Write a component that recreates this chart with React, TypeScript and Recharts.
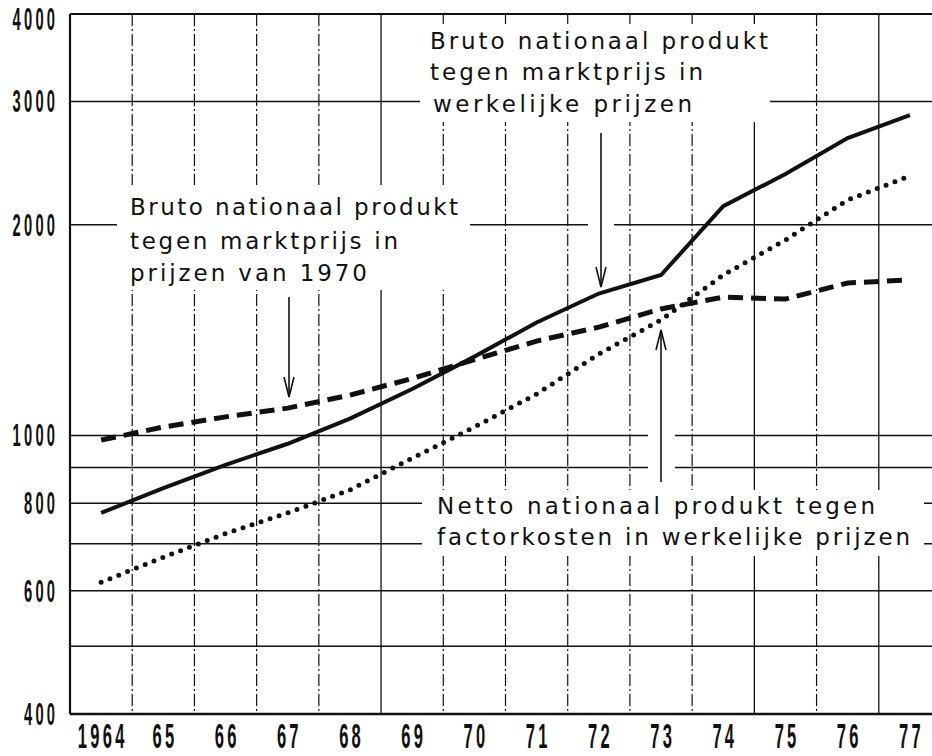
import React from 'react';
import { LineChart, Line, XAxis, YAxis, CartesianGrid, ReferenceLine, Customized } from 'recharts';

const years = [1964, 1965, 1966, 1967, 1968, 1969, 1970, 1971, 1972, 1973, 1974, 1975, 1976, 1977];
const yearLabels = ['1964', '65', '66', '67', '68', '69', '70', '71', '72', '73', '74', '75', '76', '77'];

// Bruto nationaal produkt tegen marktprijs in werkelijke prijzen (solid)
const bnpWerkelijkePrijzen = [775, 841, 908, 973, 1057, 1165, 1296, 1450, 1595, 1695, 2126, 2363, 2660, 2869];
// Bruto nationaal produkt tegen marktprijs in prijzen van 1970 (dashed)
const bnpPrijzen1970 = [985, 1028, 1063, 1094, 1142, 1206, 1283, 1364, 1428, 1516, 1576, 1566, 1651, 1668];
// Netto nationaal produkt tegen factorkosten in werkelijke prijzen (dotted)
const nnpFactorkosten = [617, 670, 724, 775, 836, 928, 1028, 1146, 1307, 1462, 1695, 1902, 2170, 2348];

const yTickValues = [400, 600, 800, 1000, 2000, 3000, 4000];
const yGridValues = [500, 600, 700, 800, 900, 1000, 2000, 3000];
const yearBoundariesSolid = [1968.5, 1974.5, 1976.5];
const yearBoundariesDashed = [1964.5, 1965.5, 1966.5, 1967.5, 1969.5, 1970.5, 1971.5, 1972.5, 1973.5, 1975.5];

const data = years.map((year, i) => ({
  year,
  bnpW: bnpWerkelijkePrijzen[i],
  bnp70: bnpPrijzen1970[i],
  nnp: nnpFactorkosten[i],
}));

const NUM_FONT = "'Liberation Sans', Arial, sans-serif";
const TXT_FONT = "'DejaVu Sans', Verdana, sans-serif";
const INK = '#111';
const SX = 0.46;

const XTick = (props: any) => {
  const { x, y, payload } = props;
  const label = yearLabels[years.indexOf(payload.value)];
  const ls = 7;
  return (
    <g transform={`translate(${x + (ls * SX) / 2},${y + 34})`}>
      <text transform={`scale(${SX},1)`} textAnchor="middle" fontFamily={NUM_FONT} fontWeight="bold" fontSize={36} letterSpacing={ls} fill={INK}>
        {label}
      </text>
    </g>
  );
};

const YTick = (props: any) => {
  const { x, y, payload } = props;
  if (!yTickValues.includes(payload.value)) return null;
  const ls = 7;
  const base = Math.max(y + 11, 30);
  return (
    <g transform={`translate(${x + ls * SX},${base})`}>
      <text transform={`scale(${SX},1)`} textAnchor="end" fontFamily={NUM_FONT} fontWeight="bold" fontSize={32} letterSpacing={ls} fill={INK}>
        {payload.value}
      </text>
    </g>
  );
};

const TextLine = ({ x, y, len, children }: any) => (
  <text x={x} y={y} textLength={len} lengthAdjust="spacing" fontFamily={TXT_FONT} fontSize={23} fill={INK}>
    {children}
  </text>
);

const Annotations = () => (
  <g>
    {/* white backgrounds that interrupt the grid */}
    <rect x={117} y={185} width={353} height={105} fill="#fff" />
    <rect x={420} y={24} width={350} height={98} fill="#fff" />
    <rect x={422} y={490} width={502} height={66} fill="#fff" />
    <rect x={588} y={200} width={26} height={50} fill="#fff" />
    <rect x={648} y={425} width={27} height={57} fill="#fff" />

    <TextLine x={130} y={215} len={328}>Bruto nationaal produkt</TextLine>
    <TextLine x={130} y={249} len={268}>tegen marktprijs in</TextLine>
    <TextLine x={130} y={281} len={237}>prijzen van 1970</TextLine>

    <TextLine x={430} y={49} len={338}>Bruto nationaal produkt</TextLine>
    <TextLine x={430} y={80} len={273}>tegen marktprijs in</TextLine>
    <TextLine x={433} y={112} len={259}>werkelijke prijzen</TextLine>

    <TextLine x={437} y={514} len={438}>Netto nationaal produkt tegen</TextLine>
    <TextLine x={437} y={545} len={473}>factorkosten in werkelijke prijzen</TextLine>

    <g stroke={INK} strokeWidth={1.6} fill="none">
      <line x1={289} y1={297} x2={289} y2={397} />
      <polyline points="284,377 289,397 294,377" />
      <line x1={601} y1={133} x2={601} y2={287} />
      <polyline points="596,267 601,287 606,267" />
      <line x1={661} y1={330} x2={661} y2={482} />
      <polyline points="656,350 661,330 666,350" />
    </g>
  </g>
);

export default function App() {
  return (
    <div style={{ position: 'absolute', left: 0, top: 0, width: 932, height: 756, overflow: 'hidden', background: '#fff' }}>
      <LineChart width={941} height={756} data={data} margin={{ top: 14, right: 0, bottom: 0, left: 0 }}>
        <CartesianGrid horizontal={false} vertical={true} verticalValues={yearBoundariesDashed} stroke={INK} strokeWidth={1.2} strokeDasharray="12 3 2 3" />
        <CartesianGrid horizontal={false} vertical={true} verticalValues={yearBoundariesSolid} stroke={INK} strokeWidth={1.3} />
        <CartesianGrid horizontal={true} vertical={false} horizontalValues={yGridValues} stroke={INK} strokeWidth={1.5} />
        <XAxis
          dataKey="year"
          type="number"
          domain={[1963.5, 1977.5]}
          ticks={years}
          interval={0}
          height={42}
          tickSize={0}
          tickMargin={0}
          tickLine={false}
          axisLine={{ stroke: INK, strokeWidth: 2.5 }}
          tick={<XTick />}
        />
        <YAxis
          type="number"
          scale="log"
          domain={[400, 4000]}
          allowDataOverflow
          ticks={yTickValues}
          interval={0}
          width={70}
          tickSize={0}
          tickMargin={15}
          tickLine={false}
          axisLine={{ stroke: INK, strokeWidth: 2.2 }}
          tick={<YTick />}
        />
        <ReferenceLine y={4000} stroke={INK} strokeWidth={2.2} />
        <Customized component={<Annotations />} />
        <Line type="linear" dataKey="nnp" stroke={INK} strokeWidth={5} strokeDasharray="0 9.5" strokeLinecap="round" dot={false} activeDot={false} isAnimationActive={false} />
        <Line type="linear" dataKey="bnp70" stroke={INK} strokeWidth={5} strokeDasharray="15 8" dot={false} activeDot={false} isAnimationActive={false} />
        <Line type="linear" dataKey="bnpW" stroke={INK} strokeWidth={4} dot={false} activeDot={false} isAnimationActive={false} />
      </LineChart>
    </div>
  );
}
